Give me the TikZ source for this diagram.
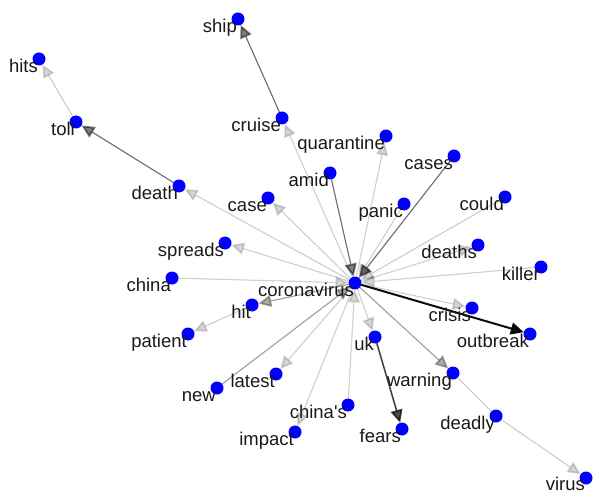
\documentclass[tikz,border=0pt]{standalone}
\usepackage{fontspec}
\setmainfont{Liberation Sans}
\usetikzlibrary{arrows.meta}
\pgfdeclarelayer{bg}
\pgfsetlayers{bg,main}
\tikzset{
  dot/.style={circle,fill=blue,draw=none,minimum size=13pt,inner sep=0pt,outer sep=0pt},
  lab/.style={anchor=base east,inner sep=0pt,text=black!90,font=\fontsize{18.5}{22}\selectfont},
  edge/.style={line width=1.2pt,-{Triangle[length=13pt,width=12pt,line width=1.8pt]}},
  plain/.style={line width=1.2pt},
  e1/.style={draw=black,fill=black,opacity=0.16},
  e2/.style={draw=black,fill=black,opacity=0.32},
  e3/.style={draw=black,fill=black,opacity=0.5},
  e4/.style={draw=black,fill=black,opacity=0.7,line width=1.6pt},
  e5/.style={draw=black,fill=black,opacity=0.95,line width=2pt},
}
\newcommand\wnode[4]{\node[dot] (#1) at (#2,#3) {}; \node[lab] (#1-l) at (#2-1,#3+13.5) {#4};}
\begin{document}
\begin{tikzpicture}[x=1pt,y=-1pt]
\useasboundingbox (0,0) rectangle (593,494);
\wnode{ship}{238}{19}{ship}
\wnode{hits}{39}{59}{hits}
\wnode{toll}{76}{122}{toll}
\wnode{cruise}{282}{118}{cruise}
\wnode{death}{179}{186}{death}
\wnode{case}{268}{198}{case}
\wnode{spreads}{225}{243}{spreads}
\wnode{china}{172}{278}{china}
\wnode{hit}{252}{305}{hit}
\wnode{patient}{188}{334}{patient}
\wnode{new}{217}{388}{new}
\wnode{latest}{276}{374}{latest}
\wnode{impact}{295}{432}{impact}
\wnode{quarantine}{386}{136}{quarantine}
\wnode{amid}{330}{173}{amid}
\wnode{cases}{454}{156}{cases}
\wnode{panic}{404}{204}{panic}
\wnode{could}{505}{197}{could}
\wnode{deaths}{478}{245}{deaths}
\wnode{killer}{541}{267}{killer}
\wnode{cor}{355}{283}{coronavirus}
\wnode{crisis}{472}{308}{crisis}
\wnode{outbreak}{530}{334}{outbreak}
\wnode{uk}{375}{337}{uk}
\wnode{warning}{453}{373}{warning}
\wnode{chinas}{348}{405}{china\textquotesingle s}
\wnode{fears}{402}{429}{fears}
\wnode{deadly}{496}{416}{deadly}
\node[dot] (virus) at (586,478) {};
\node[lab] (virus-l) at (585,490) {virus};
\begin{pgfonlayer}{bg}
\draw[edge,e1] (cor) -- (cruise);
\draw[edge,e3] (cruise) -- (ship);
\draw[edge,e1] (cor) -- (death);
\draw[edge,e3] (death) -- (toll);
\draw[edge,e1] (toll) -- (hits);
\draw[edge,e1] (cor) -- (case);
\draw[edge,e1] (cor) -- (spreads);
\draw[edge,e1] (china) -- (cor);
\draw[edge,e2] (cor) -- (hit);
\draw[edge,e1] (hit) -- (patient);
\draw[edge,e2] (new) -- (cor);
\draw[edge,e1] (cor) -- (latest);
\draw[edge,e1] (cor) -- (impact);
\draw[edge,e1] (chinas) -- (cor);
\draw[edge,e1] (cor) -- (uk);
\draw[edge,e4] (uk) -- (fears);
\draw[edge,e2] (cor) -- (warning);
\draw[plain,e1] (warning) -- (deadly);
\draw[edge,e1] (deadly) -- (virus);
\draw[edge,e1] (cor) -- (crisis);
\draw[edge,e5] (cor) -- (outbreak);
\draw[edge,e1] (cor) -- (deaths);
\draw[edge,e1] (killer) -- (cor);
\draw[edge,e1] (could) -- (cor);
\draw[edge,e3] (cases) -- (cor);
\draw[edge,e1] (panic) -- (cor);
\draw[edge,e3] (amid) -- (cor);
\draw[edge,e1] (cor) -- (quarantine);
\end{pgfonlayer}
\end{tikzpicture}
\end{document}
